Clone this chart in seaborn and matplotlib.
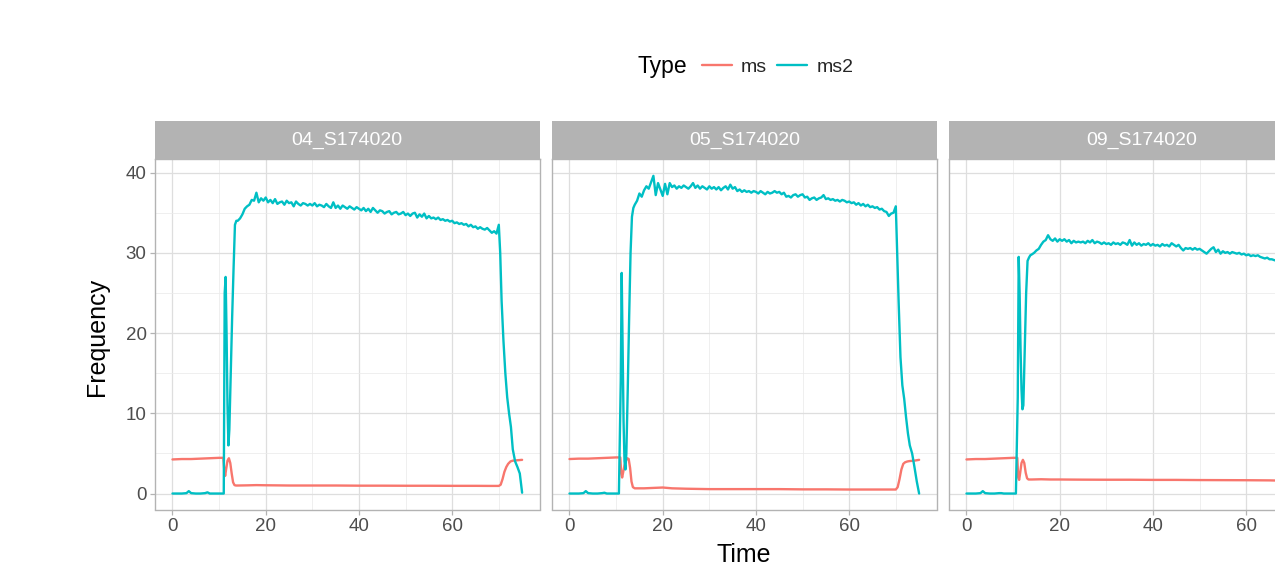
import numpy as np
import pandas as pd
import matplotlib
matplotlib.use("Agg")
import matplotlib.pyplot as plt
import seaborn as sns
from matplotlib.patches import Rectangle
from matplotlib.lines import Line2D
from matplotlib.ticker import MultipleLocator

# ---------------- data ----------------
samples = ["04_S174020", "05_S174020", "09_S174020"]
types = ["ms", "ms2"]
type_colors = {"ms": "#F8766D", "ms2": "#00BFC4"}

# time grid of the ms2 traces (minutes)
time_ms2 = [
    0.0, 1.0, 2.0, 3.0, 3.5, 4.0, 5.0, 6.0, 7.0, 7.5, 8.0, 9.0, 10.0, 10.6,
    11.0, 11.2, 11.4, 11.6, 11.8, 12.0, 12.2, 12.5, 12.8, 13.1, 13.4, 13.7,
    14.0, 14.5, 15.0, 15.5, 16.0, 16.5, 17.0, 17.5, 18.0, 18.5,
    19.0, 19.5, 20.0, 20.5, 21.0, 21.5, 22.0, 22.5, 23.0, 23.5,
    24.0, 24.5, 25.0, 25.5, 26.0, 26.5, 27.0, 27.5, 28.0, 28.5,
    29.0, 29.5, 30.0, 30.5, 31.0, 31.5, 32.0, 32.5, 33.0, 33.5,
    34.0, 34.5, 35.0, 35.5, 36.0, 36.5, 37.0, 37.5, 38.0, 38.5,
    39.0, 39.5, 40.0, 40.5, 41.0, 41.5, 42.0, 42.5, 43.0, 43.5,
    44.0, 44.5, 45.0, 45.5, 46.0, 46.5, 47.0, 47.5, 48.0, 48.5,
    49.0, 49.5, 50.0, 50.5, 51.0, 51.5, 52.0, 52.5, 53.0, 53.5,
    54.0, 54.5, 55.0, 55.5, 56.0, 56.5, 57.0, 57.5, 58.0, 58.5,
    59.0, 59.5, 60.0, 60.5, 61.0, 61.5, 62.0, 62.5, 63.0, 63.5,
    64.0, 64.5, 65.0, 65.5, 66.0, 66.5, 67.0, 67.5, 68.0, 68.5,
    69.0, 69.5, 70.0,
    70.3, 70.6, 71.0, 71.4, 71.8, 72.2, 72.6, 73.0, 73.5, 74.0, 74.5, 75.0,
]

ms2_04 = [
    0, 0, 0, 0.05, 0.3, 0.05, 0, 0, 0.05, 0.15, 0, 0, 0, 0,
    0, 25.0, 27.0, 20.0, 11.0, 6.0, 8.0, 15.0, 22.0, 28.0, 33.5, 34.0,
    34.0, 34.3, 34.8, 35.5, 35.8, 36.0, 36.6, 36.5, 37.5, 36.3,
    36.8, 36.5, 36.9, 36.3, 36.6, 36.2, 36.7, 36.1, 36.3, 36.4,
    36.0, 36.5, 36.2, 36.3, 35.8, 36.4, 36.1, 35.9, 36.2, 36.1,
    35.9, 36.1, 35.9, 36.2, 35.8, 36.0, 35.9, 35.7, 36.1, 35.8,
    35.6, 36.3, 35.6, 35.9, 35.5, 35.9, 35.7, 35.5, 35.8, 35.6,
    35.4, 35.7, 35.5, 35.3, 35.6, 35.2, 35.5, 35.1, 35.6, 35.3,
    35.0, 35.3, 35.2, 34.9, 35.1, 35.2, 34.8, 35.0, 35.1, 34.8,
    34.9, 35.1, 34.7, 34.9, 34.6, 34.9, 35.0, 34.4, 34.8, 34.5,
    34.9, 34.3, 34.6, 34.3, 34.4, 34.2, 34.4, 34.1, 34.2, 34.0,
    34.1, 33.9, 34.0, 33.7, 33.8, 33.6, 33.7, 33.5, 33.6, 33.3,
    33.5, 33.2, 33.3, 33.0, 33.2, 33.0, 32.9, 33.1, 32.8, 32.5,
    32.7, 32.4, 33.5,
    30.0, 24.0, 19.0, 15.0, 12.0, 10.0, 8.3, 5.5, 4.0, 3.3, 2.5, 0.1,
]

ms2_05 = [
    0, 0, 0, 0.05, 0.3, 0.05, 0, 0, 0.05, 0.1, 0, 0, 0, 0,
    14.0, 27.5, 18.0, 9.0, 4.0, 3.0, 5.0, 13.0, 22.0, 30.0, 34.5, 35.6,
    36.0, 36.5, 37.4, 37.0, 37.8, 38.3, 38.0, 38.8, 39.6, 37.2,
    38.7, 37.9, 37.1, 38.6, 37.3, 38.7, 38.2, 38.4, 38.0, 38.3,
    38.1, 38.4, 38.2, 38.0, 38.3, 38.7, 38.1, 38.4, 38.0, 38.3,
    38.1, 37.9, 38.3, 38.0, 38.2, 37.9, 38.2, 37.8, 38.1, 38.3,
    37.9, 38.5, 38.0, 38.2, 37.7, 37.9, 37.6, 37.8, 37.6, 37.7,
    37.5, 37.7, 37.6, 37.4, 37.7, 37.5, 37.3, 37.6, 37.4, 37.5,
    37.7, 37.5, 37.6, 37.3, 37.5, 37.0, 37.1, 36.9, 37.2, 37.3,
    37.0, 37.2, 37.3, 36.9, 37.0, 36.6, 36.8, 36.9, 36.6, 36.8,
    36.9, 37.2, 36.7, 36.8, 36.6, 36.7, 36.5, 36.6, 36.4, 36.6,
    36.5, 36.3, 36.4, 36.2, 36.3, 36.0, 36.2, 35.9, 36.1, 35.8,
    36.0, 35.7, 35.8, 35.6, 35.7, 35.4, 35.5, 35.2, 35.1, 34.6,
    34.9, 35.0, 35.8,
    30.0, 24.0, 17.0, 13.5, 11.8, 9.5, 7.5, 6.0, 5.0, 3.3, 1.5, 0.0,
]

ms2_09 = [
    0, 0, 0, 0.05, 0.3, 0.05, 0, 0, 0.05, 0.05, 0, 0, 0, 0,
    12.0, 29.5, 25.0, 18.0, 13.0, 10.5, 11.0, 18.0, 25.0, 29.0, 29.4, 29.7,
    29.8, 30.0, 30.3, 30.5, 31.0, 31.4, 31.6, 32.2, 31.7, 31.5,
    31.8, 31.4, 31.7, 31.5, 31.7, 31.4, 31.6, 31.2, 31.5, 31.3,
    31.4, 31.3, 31.4, 31.2, 31.5, 31.3, 31.6, 31.2, 31.4, 31.3,
    31.1, 31.3, 31.1, 31.2, 31.0, 31.3, 31.1, 31.2, 31.0, 31.3,
    31.2, 31.0, 31.6, 30.9, 31.3, 31.0, 31.2, 30.9, 31.1, 31.0,
    31.2, 30.9, 31.1, 30.9, 31.0, 30.8, 31.1, 30.9, 31.0, 30.8,
    31.2, 31.0, 30.8, 31.0, 30.6, 30.3, 30.6, 30.5, 30.6, 30.4,
    30.6, 30.4, 30.5, 30.3, 30.1, 29.9, 30.2, 30.5, 30.7, 30.1,
    30.4, 29.9, 30.2, 30.0, 30.1, 29.9, 30.1, 30.0, 29.9, 30.0,
    29.8, 29.9, 29.7, 29.8, 29.6, 29.7, 29.6, 29.7, 29.5, 29.4,
    29.3, 29.4, 29.2, 29.2, 29.1, 29.0, 28.9, 28.8, 28.7, 28.6,
    28.5, 28.4, 28.6,
    26.0, 20.0, 15.0, 12.0, 10.0, 8.5, 7.0, 5.5, 4.2, 3.0, 1.5, 0.0,
]

# time grid of the ms traces (minutes)
time_ms = [
    0.0, 2.0, 4.0, 6.0, 8.0, 10.0, 10.9, 11.1, 11.3, 11.5, 11.8, 12.1,
    12.4, 12.7, 13.0, 13.3, 13.6, 14.0, 16.0, 18.0, 20.0, 22.0, 25.0,
    30.0, 35.0, 40.0, 45.0, 50.0, 55.0, 60.0, 65.0, 68.0, 70.0,
    70.4, 70.8, 71.2, 71.6, 72.0, 72.5, 73.0, 74.0, 75.0,
]

ms_04 = [
    4.25, 4.3, 4.3, 4.35, 4.4, 4.45, 4.45, 3.0, 2.2, 3.0, 4.1, 4.4,
    3.8, 2.5, 1.4, 1.05, 1.0, 1.0, 1.02, 1.05, 1.03, 1.02, 1.0,
    1.0, 1.0, 0.98, 0.98, 0.97, 0.97, 0.96, 0.96, 0.95, 0.95,
    1.1, 1.8, 2.7, 3.3, 3.7, 4.0, 4.1, 4.15, 4.2,
]

ms_05 = [
    4.3, 4.35, 4.35, 4.4, 4.45, 4.5, 4.5, 2.5, 2.0, 2.6, 3.5, 4.1,
    4.4, 4.3, 3.2, 1.5, 0.8, 0.65, 0.65, 0.7, 0.75, 0.65, 0.6,
    0.55, 0.55, 0.55, 0.55, 0.52, 0.52, 0.5, 0.5, 0.5, 0.5,
    0.8, 1.8, 3.0, 3.7, 3.9, 4.0, 4.05, 4.1, 4.2,
]

ms_09 = [
    4.25, 4.3, 4.3, 4.35, 4.4, 4.45, 4.45, 2.0, 1.7, 2.5, 3.8, 4.2,
    3.8, 2.6, 1.9, 1.75, 1.75, 1.75, 1.78, 1.75, 1.75, 1.74, 1.73,
    1.72, 1.72, 1.70, 1.70, 1.68, 1.67, 1.66, 1.64, 1.6, 1.6,
    1.8, 2.4, 3.0, 3.5, 3.8, 4.0, 4.1, 4.15, 4.2,
]

ms_by_sample = [ms_04, ms_05, ms_09]
ms2_by_sample = [ms2_04, ms2_05, ms2_09]

frames = []
for s, a, b in zip(samples, ms_by_sample, ms2_by_sample):
    frames.append(pd.DataFrame({"Time": time_ms, "Frequency": a, "Type": "ms", "Sample": s}))
    frames.append(pd.DataFrame({"Time": time_ms2, "Frequency": b, "Type": "ms2", "Sample": s}))
df = pd.concat(frames, ignore_index=True)

# ---------------- style ----------------
sns.set_theme(style="white")
plt.rcParams["font.family"] = ["Liberation Sans", "DejaVu Sans"]

g = sns.relplot(
    data=df, x="Time", y="Frequency", hue="Type", col="Sample",
    col_order=samples, hue_order=types, palette=type_colors,
    kind="line", estimator=None, legend=False, linewidth=1.7,
    height=4, aspect=1, facet_kws=dict(sharex=True, sharey=True),
)

fig = g.figure
W, H = 1275, 566
fig.set_size_inches(W / 100, H / 100)

top_px, bot_px = 159, 509.5
lefts_px = [155, 552, 949]
pw_px = 384.6
strip_h = 38 / (bot_px - top_px)

for i, (ax, s) in enumerate(zip(g.axes.flat, samples)):
    ax.set_position([lefts_px[i] / W, 1 - bot_px / H, pw_px / W, (bot_px - top_px) / H])
    ax.set_xlim(-3.75, 78.75)
    ax.set_ylim(-1.99, 41.7)
    ax.xaxis.set_major_locator(MultipleLocator(20))
    ax.xaxis.set_minor_locator(MultipleLocator(10))
    ax.yaxis.set_major_locator(MultipleLocator(10))
    ax.yaxis.set_minor_locator(MultipleLocator(5))
    ax.set_axisbelow(True)
    ax.grid(which="major", color="#DEDEDE", linewidth=0.9)
    ax.grid(which="minor", color="#EBEBEB", linewidth=0.55)
    for sp in ax.spines.values():
        sp.set_visible(True)
        sp.set_color("#B3B3B3")
        sp.set_linewidth(1.0)
    ax.tick_params(which="major", color="#B3B3B3", length=3.5, width=0.9,
                   labelcolor="#4D4D4D", labelsize=13.5, pad=2.5,
                   bottom=True, left=(i == 0), labelleft=(i == 0))
    ax.tick_params(which="minor", length=0)
    ax.set_title("")
    ax.set_xlabel("")
    ax.set_ylabel("")
    ax.add_patch(Rectangle((0, 1), 1, strip_h, transform=ax.transAxes,
                           facecolor="#B3B3B3", edgecolor="none", clip_on=False))
    ax.text(0.5, 1 + strip_h / 2, s, transform=ax.transAxes, ha="center",
            va="center", color="white", fontsize=14)

fig.text(97 / W, 1 - 337 / H, "Frequency", rotation=90, ha="center", va="center",
         fontsize=18, color="black")
fig.text(744 / W, 1 - 555 / H, "Time", ha="center", va="center",
         fontsize=18, color="black")

# legend
fig.text(638 / W, 1 - 73 / H, "Type", ha="left", va="baseline", fontsize=16.5, color="black")
handles = [Line2D([], [], color=type_colors[t], linewidth=1.7) for t in types]
fig.legend(handles, types, loc="center left", bbox_to_anchor=(702 / W, 1 - 67 / H),
           ncol=2, frameon=False, fontsize=14, handlelength=1.55,
           handletextpad=0.46, columnspacing=0.52, borderpad=0, borderaxespad=0)

fig.savefig("out.png", dpi=100)
